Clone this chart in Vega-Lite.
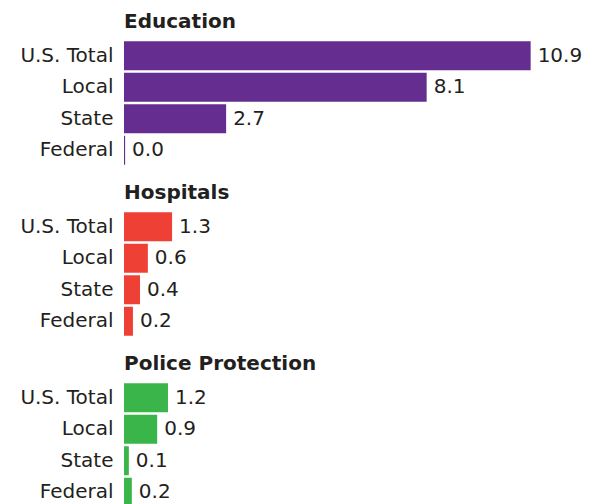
{
  "$schema": "https://vega.github.io/schema/vega-lite/v6.json",
  "padding": {"left": 19, "top": 12, "right": 0, "bottom": 0},
  "background": "white",
  "data": {"values": [
    {"category": "Education", "level": "U.S. Total", "value": 10.91},
    {"category": "Education", "level": "Local", "value": 8.12},
    {"category": "Education", "level": "State", "value": 2.74},
    {"category": "Education", "level": "Federal", "value": 0.03},
    {"category": "Hospitals", "level": "U.S. Total", "value": 1.29},
    {"category": "Hospitals", "level": "Local", "value": 0.64},
    {"category": "Hospitals", "level": "State", "value": 0.43},
    {"category": "Hospitals", "level": "Federal", "value": 0.24},
    {"category": "Police Protection", "level": "U.S. Total", "value": 1.18},
    {"category": "Police Protection", "level": "Local", "value": 0.89},
    {"category": "Police Protection", "level": "State", "value": 0.13},
    {"category": "Police Protection", "level": "Federal", "value": 0.21}
  ]},
  "config": {
    "view": {"stroke": null},
    "concat": {"spacing": 17},
    "font": "DejaVu Sans",
    "title": {"anchor": "start", "frame": "group", "fontSize": 20, "fontWeight": "bold", "color": "#231f20", "font": "DejaVu Sans", "offset": 8},
    "axisY": {"title": null, "ticks": false, "domain": false, "grid": false, "labelFontSize": 20, "labelPadding": 11, "labelColor": "#231f20", "labelFont": "DejaVu Sans"}
  },
  "vconcat": [
    {
      "title": "Education",
      "width": 410, "height": 126,
      "transform": [{"filter": "datum.category === 'Education'"}],
      "encoding": {
        "y": {"field": "level", "type": "nominal", "sort": ["U.S. Total", "Local", "State", "Federal"], "scale": {"paddingInner": 0.08, "paddingOuter": 0.04}},
        "x": {"field": "value", "type": "quantitative", "scale": {"domain": [0, 11]}, "axis": null}
      },
      "layer": [
        {"mark": {"type": "bar"}, "encoding": {"color": {"field": "category", "type": "nominal", "scale": {"domain": ["Education", "Hospitals", "Police Protection"], "range": ["#662d91", "#ef4036", "#3ab54a"]}, "legend": null}}},
        {"mark": {"type": "text", "align": "left", "baseline": "middle", "dx": 7, "fontSize": 20, "color": "#231f20"}, "encoding": {"text": {"field": "value", "type": "quantitative", "format": ".1f"}}}
      ]
    },
    {
      "title": "Hospitals",
      "width": 410, "height": 126,
      "transform": [{"filter": "datum.category === 'Hospitals'"}],
      "encoding": {
        "y": {"field": "level", "type": "nominal", "sort": ["U.S. Total", "Local", "State", "Federal"], "scale": {"paddingInner": 0.08, "paddingOuter": 0.04}},
        "x": {"field": "value", "type": "quantitative", "scale": {"domain": [0, 11]}, "axis": null}
      },
      "layer": [
        {"mark": {"type": "bar"}, "encoding": {"color": {"field": "category", "type": "nominal", "scale": {"domain": ["Education", "Hospitals", "Police Protection"], "range": ["#662d91", "#ef4036", "#3ab54a"]}, "legend": null}}},
        {"mark": {"type": "text", "align": "left", "baseline": "middle", "dx": 7, "fontSize": 20, "color": "#231f20"}, "encoding": {"text": {"field": "value", "type": "quantitative", "format": ".1f"}}}
      ]
    },
    {
      "title": "Police Protection",
      "width": 410, "height": 126,
      "transform": [{"filter": "datum.category === 'Police Protection'"}],
      "encoding": {
        "y": {"field": "level", "type": "nominal", "sort": ["U.S. Total", "Local", "State", "Federal"], "scale": {"paddingInner": 0.08, "paddingOuter": 0.04}},
        "x": {"field": "value", "type": "quantitative", "scale": {"domain": [0, 11]}, "axis": null}
      },
      "layer": [
        {"mark": {"type": "bar"}, "encoding": {"color": {"field": "category", "type": "nominal", "scale": {"domain": ["Education", "Hospitals", "Police Protection"], "range": ["#662d91", "#ef4036", "#3ab54a"]}, "legend": null}}},
        {"mark": {"type": "text", "align": "left", "baseline": "middle", "dx": 7, "fontSize": 20, "color": "#231f20"}, "encoding": {"text": {"field": "value", "type": "quantitative", "format": ".1f"}}}
      ]
    }
  ]
}
